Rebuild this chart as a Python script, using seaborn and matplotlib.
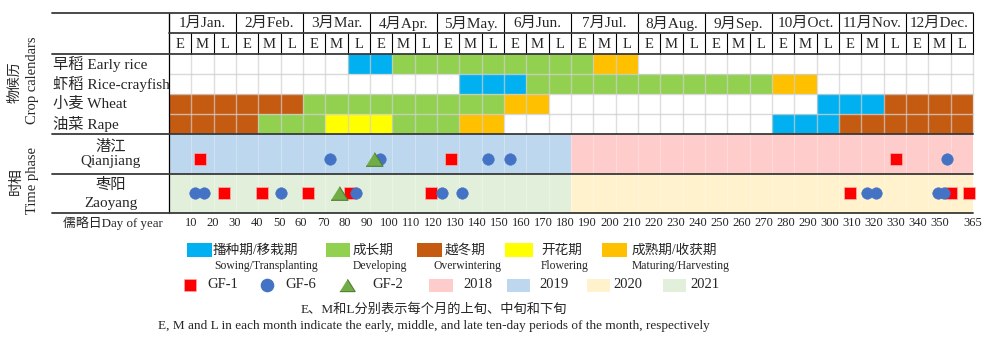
import numpy as np
import pandas as pd
import matplotlib
matplotlib.use("Agg")
import matplotlib.pyplot as plt
import seaborn as sns
from matplotlib.patches import Rectangle

sns.set_theme(style="white")
FONTS = ['Liberation Serif', 'Noto Sans CJK SC', 'DejaVu Sans']
plt.rcParams['font.family'] = FONTS

# ------------------------------------------------------------------ data
months_cn = ["1月", "2月", "3月", "4月", "5月", "6月", "7月", "8月", "9月", "10月", "11月", "12月"]
months_en = ["Jan.", "Feb.", "Mar.", "Apr.", "May.", "Jun.", "Jul.", "Aug.", "Sep.", "Oct.", "Nov.", "Dec."]
decade_labels = ["E", "M", "L"]

crop_names = ["早稻 Early rice", "虾稻 Rice-crayfish", "小麦 Wheat", "油菜 Rape"]
stage_cn = ["播种期/移栽期", "成长期", "越冬期", "开花期", "成熟期/收获期"]
stage_en = ["Sowing/Transplanting", "Developing", "Overwintering", "Flowering", "Maturing/Harvesting"]
stage_colors = ["#00B0F0", "#92D050", "#C55A11", "#FFFF00", "#FFC000"]

# stage spans per crop: (first ten-day period, last+1 ten-day period, stage index)
early_rice_spans = [(8, 10, 0), (10, 19, 1), (19, 21, 4)]
rice_crayfish_spans = [(13, 16, 0), (16, 27, 1), (27, 29, 4)]
wheat_spans = [(0, 6, 2), (6, 15, 1), (15, 17, 4), (29, 32, 0), (32, 36, 2)]
rape_spans = [(0, 4, 2), (4, 7, 1), (7, 10, 3), (10, 13, 1), (13, 15, 4), (27, 30, 0), (30, 36, 2)]
crop_spans = [early_rice_spans, rice_crayfish_spans, wheat_spans, rape_spans]

site_cn = ["潜江", "枣阳"]
site_en = ["Qianjiang", "Zaoyang"]
site_first_half_year = ["2019", "2021"]
site_second_half_year = ["2018", "2020"]
year_labels = ["2018", "2019", "2020", "2021"]
year_colors = ["#FFCCCC", "#BDD7EE", "#FFF2CC", "#E2EFDA"]

sensor_labels = ["GF-1", "GF-6", "GF-2"]
qj_gf1 = [14, 128, 330]
qj_gf6 = [73, 96, 145, 155, 353]
qj_gf2 = [93]
zy_gf1 = [25, 42, 63, 82, 119, 309, 355, 363]
zy_gf6 = [12, 16, 51, 85, 124, 133, 317, 321, 349, 352]
zy_gf2 = [77]

doy_ticks = list(range(10, 360, 10)) + [365]

# ------------------------------------------------------------------ layout
W, H = 1000, 346
X_LEFT_PX, X_RIGHT_PX = 169, 973
DPP = 365 / (X_RIGHT_PX - X_LEFT_PX)      # days per pixel


def xd(px):
    return (px - X_LEFT_PX) * DPP


DEC = 365 / 36                            # width of one ten-day period in days

fig = plt.figure(figsize=(W / 100, H / 100), dpi=100)
ax = fig.add_axes([0, 0, 1, 1])

Y_TOP, Y_MON, Y_DEC = 13, 33, 54
ROW_H = 20
Y_CROP_END = Y_DEC + 4 * ROW_H            # 134
Y_SITE = [134, 174, 213]
LINE_C = "#3a3a3a"
GRID_C = "#D0D0D0"

# --- crop calendar bars
for i, spans in enumerate(crop_spans):
    yc = Y_DEC + ROW_H * (i + 0.5)
    for s, e, st in spans:
        ax.barh(yc, (e - s) * DEC, left=s * DEC, height=ROW_H,
                color=stage_colors[st], linewidth=0, zorder=1)

# --- time-phase backgrounds
ycol = dict(zip(year_labels, year_colors))
for j in range(2):
    y0, y1 = Y_SITE[j], Y_SITE[j + 1]
    ax.barh((y0 + y1) / 2, 18 * DEC, left=0, height=y1 - y0,
            color=ycol[site_first_half_year[j]], linewidth=0, zorder=1)
    ax.barh((y0 + y1) / 2, 18 * DEC, left=18 * DEC, height=y1 - y0,
            color=ycol[site_second_half_year[j]], linewidth=0, zorder=1)

# --- grid in crop area
for k in range(1, 37):
    ax.plot([k * DEC, k * DEC], [Y_DEC, Y_CROP_END], color=GRID_C, lw=1.0, alpha=0.7, zorder=2)
    ax.plot([k * DEC, k * DEC], [Y_SITE[0], Y_SITE[2]], color="white", lw=0.6, alpha=0.35, zorder=2)
for i in range(1, 4):
    y = Y_DEC + ROW_H * i
    ax.plot([0, 365], [y, y], color=GRID_C, lw=1.0, alpha=0.8, zorder=2)

# --- header grid
for k in range(0, 37):
    top = Y_TOP if k % 3 == 0 else Y_MON
    ax.plot([k * DEC, k * DEC], [top, Y_DEC], color="black", lw=0.8, zorder=3)
ax.plot([0, 0], [Y_TOP, Y_SITE[2]], color="black", lw=0.9, zorder=3)
for y, x0 in [(Y_TOP, xd(52)), (Y_MON, 0), (Y_DEC, xd(52)), (Y_CROP_END, xd(52)),
              (Y_SITE[1], xd(52)), (Y_SITE[2], xd(52))]:
    ax.plot([x0, 365], [y, y], color=LINE_C, lw=1.3, zorder=4)

# month / decade labels
for m in range(12):
    ax.text((3 * m + 1.5) * DEC, (Y_TOP + Y_MON) / 2 + 0.5, months_cn[m] + months_en[m],
            ha="center", va="center", fontsize=11)
    for d in range(3):
        ax.text((3 * m + d + 0.5) * DEC, (Y_MON + Y_DEC) / 2 + 0.5, decade_labels[d],
                ha="center", va="center", fontsize=10.5)

# row labels
for i, name in enumerate(crop_names):
    ax.text(xd(53), Y_DEC + ROW_H * (i + 0.5), name, ha="left", va="center", fontsize=11)

site_cn_y = [147, 185]
site_en_y = [162, 203]
for j in range(2):
    ax.text(xd(111), site_cn_y[j], site_cn[j], ha="center", va="center", fontsize=11)
    ax.text(xd(111), site_en_y[j], site_en[j], ha="center", va="center", fontsize=11)

ax.text(xd(15), 82, "物候历", rotation=90, ha="center", va="center", fontsize=10)
ax.text(xd(33), 80, "Crop calendars", rotation=90, ha="center", va="center", fontsize=10.5)
ax.text(xd(16), 181, "时相", rotation=90, ha="center", va="center", fontsize=10)
ax.text(xd(33), 181, "Time phase", rotation=90, ha="center", va="center", fontsize=10.5)

# day of year axis
ax.text(xd(63), 223, "儒略日Day of year", ha="left", va="center", fontsize=9.3)
for t in doy_ticks:
    ax.text(t, 223, str(t), ha="center", va="center", fontsize=9)

# --- observation markers (seaborn)
MARK_Y = [159, 193]
obs = []
for site_i, lists in enumerate([(qj_gf1, qj_gf6, qj_gf2), (zy_gf1, zy_gf6, zy_gf2)]):
    for sens, days in zip(sensor_labels, lists):
        for d in days:
            obs.append({"day": d, "y": MARK_Y[site_i], "sensor": sens})
obs = pd.DataFrame(obs)

TRI = [(-1, -0.8), (1, -0.8), (0, 0.8)]
sns.scatterplot(data=obs[obs.sensor == "GF-1"], x="day", y="y", marker="s", s=78,
                color="#FF0000", edgecolor="#FFB0B0", linewidth=0.5, ax=ax, zorder=5, legend=False)
sns.scatterplot(data=obs[obs.sensor == "GF-6"], x="day", y="y", marker="o", s=70,
                color="#4472C4", edgecolor="#4472C4", linewidth=0.3, ax=ax, zorder=6, legend=False)
sns.scatterplot(data=obs[obs.sensor == "GF-2"], x="day", y="y", marker=TRI, s=150,
                color="#70AD47", edgecolor="#507E32", linewidth=0.8, ax=ax, zorder=7, legend=False)

# --- legend row 1 (stages)
patch_x = [(187, 212), (326, 350), (417, 442), (505, 533), (602, 627)]
cn_x = [213, 353, 445, 541, 632]
en_x = [214, 353, 433, 541, 632]
for i in range(5):
    x0, x1 = patch_x[i]
    ax.add_patch(Rectangle((xd(x0), 243), xd(x1) - xd(x0), 14, color=stage_colors[i], lw=0))
    ax.text(xd(cn_x[i]), 250, stage_cn[i], ha="left", va="center", fontsize=9.8)
    ax.text(xd(en_x[i]), 265.5, stage_en[i], ha="left", va="center", fontsize=8.4)

# --- legend row 2 (sensors, years)
LY = 285
sens_mx = [190.5, 267, 347]
sens_tx = [207, 285, 372]
ax.plot([xd(sens_mx[0])], [LY], marker="s", ms=8.5, color="#FF0000", mec="#FFB0B0", mew=0.4, ls="none")
ax.plot([xd(sens_mx[1])], [LY], marker="o", ms=8.8, color="#4472C4", ls="none")
ax.plot([xd(sens_mx[2])], [LY], marker=TRI, ms=11, color="#70AD47", mec="#507E32", mew=0.8, ls="none")
for i in range(3):
    ax.text(xd(sens_tx[i]), LY, sensor_labels[i], ha="left", va="center", fontsize=10.5)

yr_px = [(429, 453), (507, 530), (587, 610), (663, 686)]
yr_tx = [463, 539, 613, 690]
for i in range(4):
    x0, x1 = yr_px[i]
    ax.add_patch(Rectangle((xd(x0), 279), xd(x1) - xd(x0), 13, color=year_colors[i], lw=0))
    ax.text(xd(yr_tx[i]), LY, year_labels[i], ha="left", va="center", fontsize=10.5)

# notes
ax.text(xd(433.5), 309, "E、M和L分别表示每个月的上旬、中旬和下旬", ha="center", va="center", fontsize=9.5)
ax.text(xd(433.5), 325.5, "E, M and L in each month indicate the early, middle, and late ten-day periods of the month, respectively",
        ha="center", va="center", fontsize=9.5)

ax.set_xlim(xd(0), xd(W))
ax.set_ylim(H, 0)
ax.axis("off")

fig.savefig("out.png", dpi=100)
